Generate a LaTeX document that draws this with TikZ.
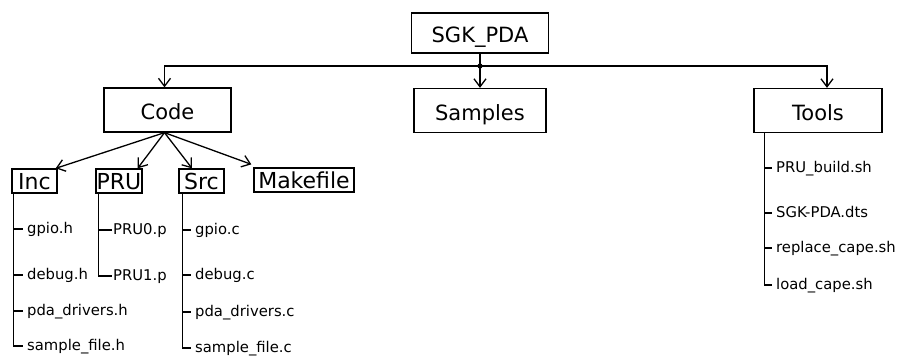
\documentclass[tikz,border=0pt]{standalone}
\usepackage{fontspec}
\setmainfont{DejaVu Sans}
\usetikzlibrary{arrows.meta}
\tikzset{
  box/.style={draw, line width=1.3pt, inner sep=0pt, align=center},
  topbox/.style={box, font=\fontsize{21}{24}\selectfont, minimum height=44pt, text height=19.4pt, text depth=0pt},
  subbox/.style={box, font=\fontsize{22}{24}\selectfont, minimum height=24pt, text height=16pt, text depth=0pt},
  item/.style={anchor=west, inner ysep=0pt, inner xsep=4pt, font=\fontsize{14.8}{16}\selectfont, text height=8pt, text depth=0pt},
  line/.style={line width=1.3pt},
  arr/.style={line width=1.3pt, -{Straight Barb[length=8pt,width=12pt,line width=1.3pt]}},
}
\begin{document}
\begin{tikzpicture}[x=1pt,y=-1pt]
\useasboundingbox (0,0) rectangle (898,356);
% boxes
\node[topbox, minimum width=137pt, minimum height=40pt] (sgk) at (480,33) {SGK\_PDA};
\node[topbox, minimum width=127pt] (code) at (167.5,110) {Code};
\node[topbox, minimum width=132pt] (samples) at (480,110.5) {Samples};
\node[topbox, minimum width=128pt] (tools) at (818,110.5) {Tools};
\node[subbox, minimum width=45pt] (inc) at (34.5,181) {Inc};
\node[subbox, minimum width=46pt] (pru) at (119,181) {PRU};
\node[subbox, minimum width=45pt] (src) at (201.5,181) {Src};
\node[subbox, minimum width=100pt] (mk) at (304,180) {Makefile};
% top connectors
\coordinate (hub) at (480,66);
\draw[line] (sgk.south) -- (hub);
\fill (hub) circle (2.6pt);
\draw[arr] (hub) -| ([xshift=-3pt]code.north);
\draw[arr] (hub) -- (samples.north);
\draw[arr] (hub) -| ([xshift=9pt]tools.north);
% code branches
\coordinate (cb) at ([xshift=-3pt]code.south);
\draw[arr] (cb) -- ([xshift=-2pt]inc.north east);
\draw[arr] (cb) -- ([xshift=-5pt]pru.north east);
\draw[arr] (cb) -- ([xshift=-9.5pt]src.north);
\draw[arr] (cb) -- ([xshift=-2pt,yshift=3pt]mk.north west);
% Inc items
\node[item] (ih1) at (23,229) {gpio.h};
\node[item] (ih2) at (23,275) {debug.h};
\node[item] (ih3) at (23,311) {pda\_drivers.h};
\node[item] (ih4) at (23,346) {sample\_file.h};
\coordinate (incT) at ([xshift=2pt]inc.south west);
\draw[line] (incT) |- (ih4.west);
\foreach \n in {ih1,ih2,ih3} \draw[line] (incT |- \n.west) -- (\n.west);
% PRU items
\node[item, inner xsep=1pt] (p1) at (112,230) {PRU0.p};
\node[item, inner xsep=1pt] (p2) at (112,276) {PRU1.p};
\coordinate (pruT) at ([xshift=3pt]pru.south west);
\draw[line] (pruT) |- (p2.west);
\draw[line] (pruT |- p1.west) -- (p1.west);
% Src items
\node[item] (s1) at (191,230) {gpio.c};
\node[item] (s2) at (191,275) {debug.c};
\node[item] (s3) at (191,312) {pda\_drivers.c};
\node[item] (s4) at (191,348) {sample\_file.c};
\coordinate (srcT) at ([xshift=4pt]src.south west);
\draw[line] (srcT) |- (s4.west);
\foreach \n in {s1,s2,s3} \draw[line] (srcT |- \n.west) -- (\n.west);
% Tools items
\node[item] (t1) at (772,168) {PRU\_build.sh};
\node[item] (t2) at (772,213) {SGK-PDA.dts};
\node[item] (t3) at (772,248) {replace\_cape.sh};
\node[item] (t4) at (772,285) {load\_cape.sh};
\coordinate (toolT) at ([xshift=11pt]tools.south west);
\draw[line] (toolT) |- (t4.west);
\foreach \n in {t1,t2,t3} \draw[line] (toolT |- \n.west) -- (\n.west);
\end{tikzpicture}
\end{document}
